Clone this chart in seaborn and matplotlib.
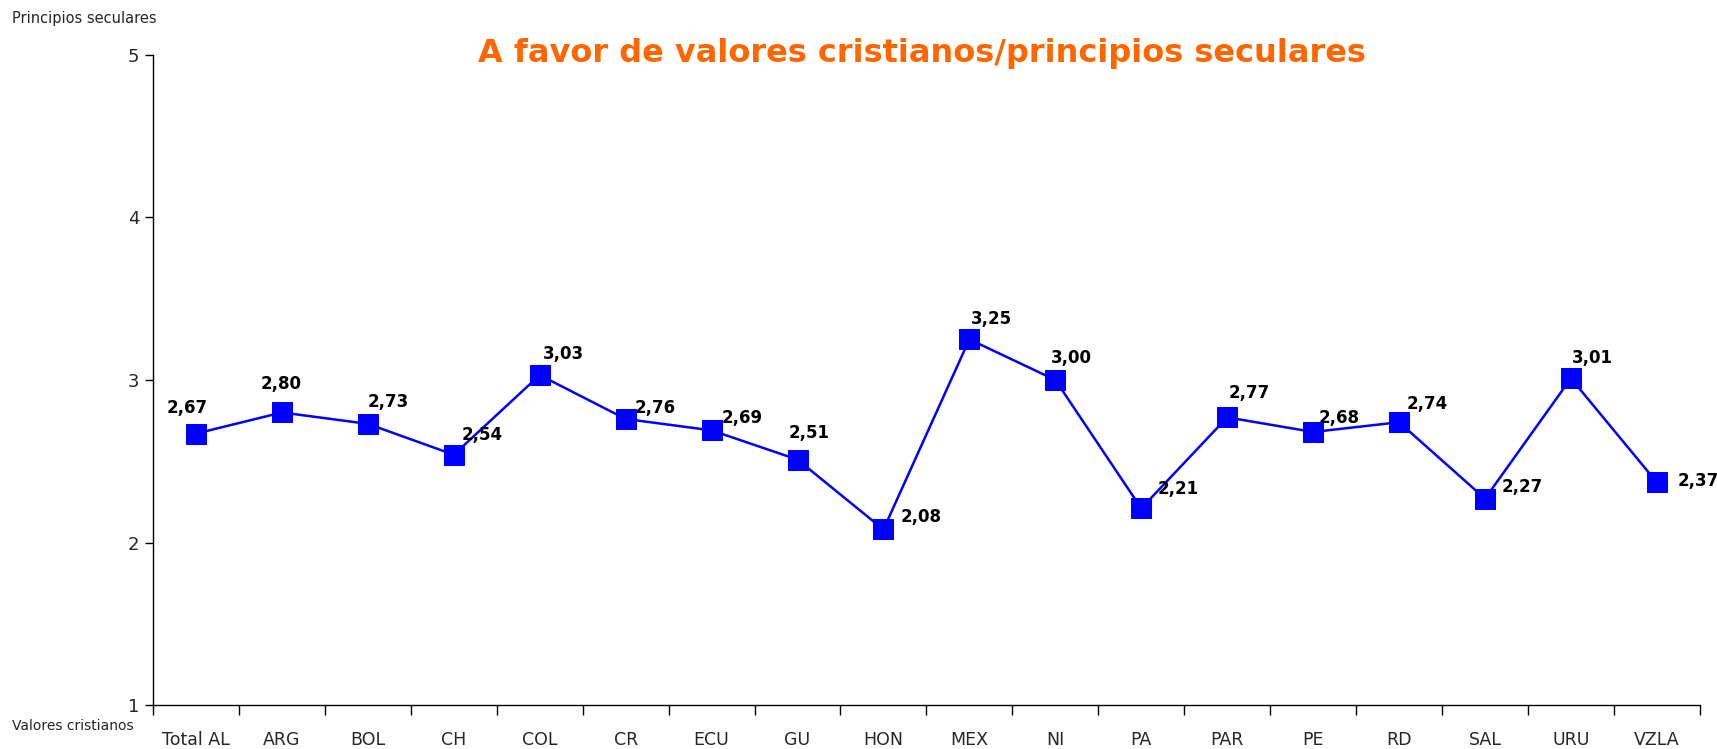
import matplotlib
matplotlib.use("Agg")
import matplotlib.pyplot as plt
import seaborn as sns
import pandas as pd

# Data
countries = ["Total AL", "ARG", "BOL", "CH", "COL", "CR", "ECU", "GU", "HON",
             "MEX", "NI", "PA", "PAR", "PE", "RD", "SAL", "URU", "VZLA"]
scores = [2.67, 2.80, 2.73, 2.54, 3.03, 2.76, 2.69, 2.51, 2.08,
          3.25, 3.00, 2.21, 2.77, 2.68, 2.74, 2.27, 3.01, 2.37]

# label placement (pixel offsets of the label's left edge / vertical centre)
label_dx = [-27, -19, 0, 7, 3, 8, 9, -8, 16, 1, -4, 15, 1, 5, 7, 15, 1, 19]
label_dy = [23, 26, 20, 18, 19, 10, 11, 24, 11, 19, 20, 18, 22, 13, 17, 11, 19, 1]

df = pd.DataFrame({"pais": countries, "valor": scores})

sns.set_style("white")
plt.rcParams["font.family"] = ["DejaVu Sans"]

fig = plt.figure(figsize=(17.17, 7.49), dpi=100)
ax = fig.add_axes([0.0891, 0.0587, 0.9009, 0.868])

sns.lineplot(data=df, x="pais", y="valor", ax=ax, color="#0000ff",
             linewidth=1.8, marker="s", markersize=15, markeredgecolor="#0000ff",
             sort=False)

for i, (v, dx, dy) in enumerate(zip(scores, label_dx, label_dy)):
    ax.annotate(f"{v:.2f}".replace(".", ","), xy=(i, v),
                xytext=(dx * 1.095, dy * 1.095), textcoords="offset pixels",
                ha="left", va="center", fontsize=12, fontweight="bold",
                color="black")

n = len(countries)
ax.set_xlim(-0.5, n - 0.5)
ax.set_ylim(1, 5)

# category boundaries as tick marks, labels in the middle
ax.set_xticks([i - 0.5 for i in range(n + 1)])
ax.set_xticklabels([])
ax.set_xticks(range(n), minor=True)
ax.set_xticklabels(countries, minor=True, fontsize=12.5)
ax.tick_params(axis="x", which="major", direction="out", length=7, width=1,
               color="black", bottom=True)
ax.tick_params(axis="x", which="minor", length=0, pad=19)

ax.set_yticks([1, 2, 3, 4, 5])
ax.set_yticklabels(["1", "2", "3", "4", "5"], fontsize=13)
ax.tick_params(axis="y", direction="out", length=6, width=1, color="black",
               left=True, pad=4)

for side in ["top", "right"]:
    ax.spines[side].set_visible(False)
for side in ["left", "bottom"]:
    ax.spines[side].set_color("black")
    ax.spines[side].set_linewidth(1)

ax.set_xlabel("")
ax.set_ylabel("")

fig.text(0.537, 0.929, "A favor de valores cristianos/principios seculares",
         ha="center", va="center", fontsize=23, fontweight="bold",
         color="#ff6600")
fig.text(0.007, 0.975, "Principios seculares", ha="left", va="center",
         fontsize=10.5)
fig.text(0.007, 0.031, "Valores cristianos", ha="left", va="center",
         fontsize=10)

fig.savefig("out.png", dpi=100)
